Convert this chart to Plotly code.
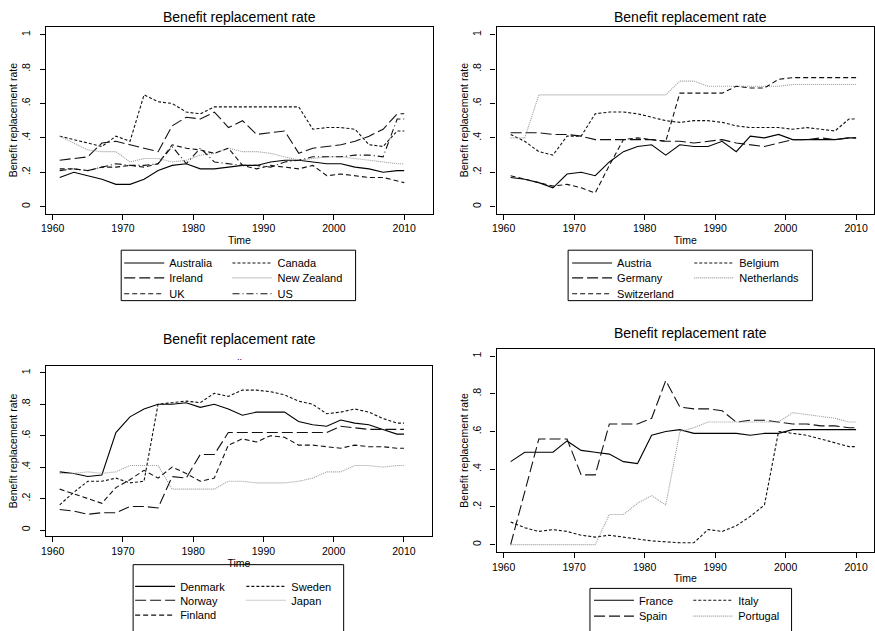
import plotly.graph_objects as go

# ---------------- data ----------------
years = [1961, 1963, 1965, 1967, 1969, 1971, 1973, 1975, 1977, 1979, 1981, 1983, 1985,
         1987, 1989, 1991, 1993, 1995, 1997, 1999, 2001, 2003, 2005, 2007, 2009, 2010]

australia = [0.17, 0.20, 0.18, 0.16, 0.13, 0.13, 0.16, 0.21, 0.24, 0.25, 0.22, 0.22, 0.23,
             0.24, 0.24, 0.26, 0.27, 0.27, 0.26, 0.25, 0.25, 0.23, 0.22, 0.20, 0.21, 0.21]
canada = [0.41, 0.39, 0.37, 0.35, 0.41, 0.38, 0.65, 0.61, 0.60, 0.55, 0.54, 0.58, 0.58,
          0.58, 0.58, 0.58, 0.58, 0.58, 0.45, 0.46, 0.46, 0.45, 0.36, 0.35, 0.44, 0.44]
ireland = [0.27, 0.28, 0.29, 0.37, 0.38, 0.36, 0.34, 0.32, 0.47, 0.52, 0.51, 0.55, 0.46,
           0.50, 0.42, 0.43, 0.44, 0.31, 0.34, 0.35, 0.36, 0.38, 0.41, 0.45, 0.54, 0.54]
new_zealand = [0.41, 0.37, 0.33, 0.32, 0.32, 0.26, 0.28, 0.28, 0.26, 0.27, 0.30, 0.31, 0.34,
               0.32, 0.32, 0.31, 0.29, 0.27, 0.28, 0.29, 0.29, 0.28, 0.27, 0.26, 0.25, 0.25]
uk = [0.22, 0.22, 0.21, 0.23, 0.23, 0.24, 0.23, 0.25, 0.36, 0.34, 0.33, 0.31, 0.34,
      0.24, 0.22, 0.24, 0.23, 0.22, 0.24, 0.18, 0.19, 0.18, 0.17, 0.17, 0.15, 0.14]
us = [0.21, 0.22, 0.21, 0.23, 0.25, 0.24, 0.24, 0.25, 0.35, 0.25, 0.34, 0.26, 0.25,
      0.24, 0.24, 0.23, 0.26, 0.27, 0.29, 0.29, 0.29, 0.30, 0.30, 0.29, 0.51, 0.51]

austria = [0.17, 0.16, 0.14, 0.11, 0.19, 0.20, 0.18, 0.26, 0.32, 0.35, 0.36, 0.30, 0.36,
           0.35, 0.35, 0.38, 0.32, 0.41, 0.40, 0.42, 0.39, 0.39, 0.39, 0.39, 0.40, 0.40]
belgium = [0.42, 0.38, 0.32, 0.30, 0.41, 0.41, 0.54, 0.55, 0.55, 0.54, 0.52, 0.50, 0.49,
           0.50, 0.50, 0.49, 0.47, 0.46, 0.46, 0.46, 0.45, 0.46, 0.45, 0.44, 0.51, 0.51]
germany = [0.43, 0.43, 0.43, 0.42, 0.42, 0.41, 0.39, 0.39, 0.39, 0.39, 0.39, 0.38, 0.38,
           0.37, 0.38, 0.39, 0.37, 0.36, 0.35, 0.37, 0.39, 0.39, 0.40, 0.39, 0.40, 0.40]
netherlands = [0.40, 0.40, 0.65, 0.65, 0.65, 0.65, 0.65, 0.65, 0.65, 0.65, 0.65, 0.65, 0.73,
               0.73, 0.70, 0.70, 0.70, 0.70, 0.70, 0.70, 0.71, 0.71, 0.71, 0.71, 0.71, 0.71]
switzerland = [0.18, 0.16, 0.14, 0.12, 0.13, 0.11, 0.08, 0.24, 0.39, 0.40, 0.39, 0.38, 0.66,
               0.66, 0.66, 0.66, 0.70, 0.69, 0.69, 0.74, 0.75, 0.75, 0.75, 0.75, 0.75, 0.75]

denmark = [0.37, 0.36, 0.34, 0.35, 0.62, 0.72, 0.77, 0.80, 0.80, 0.81, 0.78, 0.80, 0.77,
           0.73, 0.75, 0.75, 0.75, 0.69, 0.67, 0.66, 0.70, 0.68, 0.67, 0.64, 0.61, 0.61]
sweden = [0.16, 0.24, 0.31, 0.31, 0.33, 0.30, 0.31, 0.80, 0.81, 0.82, 0.81, 0.87, 0.85,
          0.89, 0.89, 0.88, 0.86, 0.82, 0.80, 0.74, 0.75, 0.77, 0.75, 0.71, 0.68, 0.68]
norway = [0.13, 0.12, 0.10, 0.11, 0.11, 0.15, 0.15, 0.14, 0.34, 0.33, 0.48, 0.48, 0.62,
          0.62, 0.62, 0.62, 0.62, 0.62, 0.62, 0.62, 0.66, 0.65, 0.64, 0.64, 0.64, 0.64]
japan = [0.36, 0.36, 0.37, 0.36, 0.37, 0.41, 0.41, 0.41, 0.26, 0.26, 0.26, 0.26, 0.31,
         0.31, 0.30, 0.30, 0.30, 0.31, 0.33, 0.37, 0.37, 0.41, 0.41, 0.40, 0.41, 0.41]
finland = [0.26, 0.23, 0.20, 0.17, 0.27, 0.32, 0.38, 0.33, 0.40, 0.36, 0.31, 0.33, 0.54,
           0.58, 0.56, 0.60, 0.59, 0.54, 0.54, 0.53, 0.52, 0.54, 0.53, 0.53, 0.52, 0.52]

france = [0.44, 0.49, 0.49, 0.49, 0.55, 0.50, 0.49, 0.48, 0.44, 0.43, 0.58, 0.60, 0.61,
          0.59, 0.59, 0.59, 0.59, 0.58, 0.59, 0.59, 0.61, 0.61, 0.61, 0.61, 0.61, 0.61]
italy = [0.12, 0.09, 0.07, 0.08, 0.07, 0.05, 0.04, 0.05, 0.04, 0.03, 0.02, 0.015, 0.01,
         0.01, 0.08, 0.07, 0.10, 0.15, 0.21, 0.60, 0.59, 0.58, 0.56, 0.54, 0.52, 0.52]
spain = [0.00, 0.28, 0.56, 0.56, 0.56, 0.37, 0.37, 0.64, 0.64, 0.64, 0.67, 0.87, 0.73,
         0.72, 0.72, 0.71, 0.65, 0.66, 0.66, 0.65, 0.64, 0.64, 0.63, 0.63, 0.62, 0.62]
portugal = [0.00, 0.00, 0.00, 0.00, 0.00, 0.00, 0.00, 0.16, 0.16, 0.22, 0.26, 0.21, 0.60,
            0.62, 0.65, 0.65, 0.65, 0.65, 0.65, 0.65, 0.70, 0.69, 0.68, 0.67, 0.65, 0.65]

x_ticks = [1960, 1970, 1980, 1990, 2000, 2010]
y_ticks = [0, 0.2, 0.4, 0.6, 0.8, 1]
y_ticklabels = ["0", ".2", ".4", ".6", ".8", "1"]
title_text = "Benefit replacement rate"
ytitle_text = "Benefit replacement rate"
xtitle_text = "Time"

# ---------------- styling ----------------
W, H = 875, 631
FONT = "Liberation Sans, Arial, sans-serif"


def px(x):
    return x / W


def py(y):
    return 1 - y / H


STY = {
    "solid": dict(color="#000000", dash="solid"),
    "shortdash": dict(color="#111111", dash="3px,2px"),
    "longdash": dict(color="#111111", dash="11px,4px"),
    "dot": dict(color="#9a9a9a", dash="1px,1px"),
    "dash": dict(color="#111111", dash="5px,3px"),
    "dashdot": dict(color="#111111", dash="7px,3px,1px,3px"),
}

# panel geometry (pixels) : left, right, top, bottom, xrange, yrange
panels = [
    dict(l=41, r=431, t=27, b=216, xr=[1959.01, 2014.1], yr=[-0.040, 1.046],
         title=(236, 17),
         series=[("Australia", australia, "solid", 0, 0), ("Canada", canada, "shortdash", 0, 1),
                 ("Ireland", ireland, "longdash", 1, 0), ("New Zealand", new_zealand, "dot", 1, 1),
                 ("UK", uk, "dash", 2, 0), ("US", us, "dashdot", 2, 1)],
         rows=[266, 281, 297], cols=[122, 231], box=(117, 353, 253, 304)),
    dict(l=495, r=875, t=27, b=216, xr=[1959.01, 2012.54], yr=[-0.040, 1.046],
         title=(690, 17),
         series=[("Austria", austria, "solid", 0, 0), ("Belgium", belgium, "shortdash", 0, 1),
                 ("Germany", germany, "longdash", 1, 0), ("Netherlands", netherlands, "dot", 1, 1),
                 ("Switzerland", switzerland, "dash", 2, 0)],
         rows=[266, 281, 297], cols=[573, 696], box=(567, 813, 253, 304)),
    dict(l=41, r=430, t=370, b=542, xr=[1959.01, 2014.0], yr=[-0.038, 1.044],
         title=(236, 343),
         series=[("Denmark", denmark, "solid", 0, 0), ("Sweden", sweden, "shortdash", 0, 1),
                 ("Norway", norway, "longdash", 1, 0), ("Japan", japan, "dot", 1, 1),
                 ("Finland", finland, "dash", 2, 0)],
         rows=[593, 607, 622], cols=[133, 245], box=(129, 341, 571, 640)),
    dict(l=495, r=875, t=353, b=558, xr=[1959.01, 2012.54], yr=[-0.038, 1.037],
         title=(690, 337),
         series=[("France", france, "solid", 0, 0), ("Italy", italy, "shortdash", 0, 1),
                 ("Spain", spain, "longdash", 1, 0), ("Portugal", portugal, "dot", 1, 1)],
         rows=[607, 623], cols=[595, 695], box=(589, 792, 595, 640)),
]

fig = go.Figure()
layout = dict(
    width=W, height=H,
    margin=dict(l=0, r=0, t=0, b=0),
    paper_bgcolor="white", plot_bgcolor="white",
    font=dict(family=FONT, size=10, color="black"),
    showlegend=True,
    annotations=[], shapes=[],
)

legend_counter = 0
for i, p in enumerate(panels):
    n = i + 1
    xa = "x" if n == 1 else f"x{n}"
    ya = "y" if n == 1 else f"y{n}"
    for name, vals, sty, row, col in p["series"]:
        legend_counter += 1
        lname = "legend" if legend_counter == 1 else f"legend{legend_counter}"
        layout[lname] = dict(
            orientation="v", x=px(p["cols"][col] - 7), xanchor="left",
            y=py(p["rows"][row]), yanchor="middle",
            bgcolor="rgba(0,0,0,0)", borderwidth=0, itemwidth=40,
            font=dict(family=FONT, size=11, color="black"),
            tracegroupgap=0, itemclick=False, itemdoubleclick=False,
        )
        fig.add_trace(go.Scatter(
            x=years, y=vals, mode="lines", name=name,
            line=dict(width=1.1, **STY[sty]),
            xaxis=xa, yaxis=ya, legend=lname, showlegend=True,
        ))
    xkey = "xaxis" if n == 1 else f"xaxis{n}"
    ykey = "yaxis" if n == 1 else f"yaxis{n}"
    layout[xkey] = dict(
        domain=[px(p["l"]), px(p["r"])], range=p["xr"], anchor=ya,
        tickvals=x_ticks, ticks="outside", ticklen=5, tickwidth=1, tickcolor="black",
        showline=True, mirror=True, linecolor="black", linewidth=1.3,
        showgrid=False, zeroline=False,
        tickfont=dict(family=FONT, size=10.5, color="black"),
        title=dict(text=xtitle_text, font=dict(family=FONT, size=10.5, color="black"), standoff=3),
    )
    layout[ykey] = dict(
        domain=[py(p["b"]), py(p["t"])], range=p["yr"], anchor=xa,
        tickvals=y_ticks, ticktext=y_ticklabels, tickangle=-90,
        ticks="outside", ticklen=5, tickwidth=1, tickcolor="black",
        ticklabelstandoff=5,
        showline=True, mirror=True, linecolor="black", linewidth=1.3,
        showgrid=False, zeroline=False,
        tickfont=dict(family=FONT, size=10.5, color="black"),
        title=dict(text=ytitle_text, font=dict(family=FONT, size=10.5, color="black"), standoff=0),
    )
    tx, ty = p["title"]
    layout["annotations"].append(dict(
        text=title_text, x=px(tx), y=py(ty), xref="paper", yref="paper",
        xanchor="center", yanchor="middle", showarrow=False,
        font=dict(family=FONT, size=14, color="black"),
    ))
    bx0, bx1, by0, by1 = p["box"]
    layout["shapes"].append(dict(
        type="rect", xref="paper", yref="paper",
        x0=px(bx0), x1=px(bx1), y0=py(by1), y1=py(by0),
        line=dict(color="black", width=1), fillcolor="rgba(0,0,0,0)",
    ))

layout["annotations"].append(dict(
    text="..", x=px(236), y=py(361), xref="paper", yref="paper",
    xanchor="center", yanchor="middle", showarrow=False,
    font=dict(family=FONT, size=9, color="black"),
))

fig.update_layout(**layout)
fig.write_html(
    "out.html",
    config={"displayModeBar": False},
    post_script="document.body.style.margin='0px';document.body.style.overflow='hidden';",
)
